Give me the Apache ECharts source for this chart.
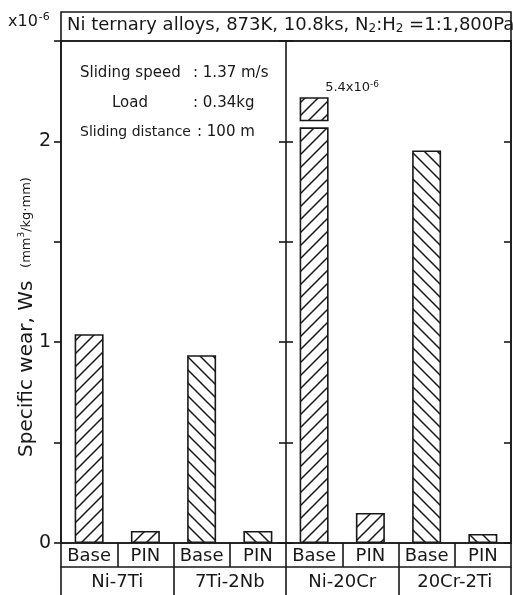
<!DOCTYPE html>
<html>
<head>
<meta charset="utf-8">
<script src="https://cdn.jsdelivr.net/npm/echarts@6/dist/echarts.min.js"></script>
<style>
  html, body { margin: 0; padding: 0; background: #fff; }
  #chart { width: 513px; height: 595px; }
</style>
</head>
<body>
<div id="chart"></div>
<script>
// specific wear, x10^-6 mm3/kg.mm
var pinLabels = ['Base', 'PIN', 'Base', 'PIN', 'Base', 'PIN', 'Base', 'PIN']
var alloys = ['Ni-7Ti', '7Ti-2Nb', 'Ni-20Cr', '20Cr-2Ti']
var baseWear = [1.04, 0.935, 5.4, 1.955]
var pinWear = [0.06, 0.06, 0.15, 0.045]
var hatchDir = ['/', '\\', '/', '\\']
// broken bar (Ni-20Cr base is off scale)
var breakLow = 2.07
var breakGap = 0.03
var breakTop = 2.22
var yTicks = [0, 0.5, 1, 1.5, 2, 2.5]

var ink = '#181818'
var font = 'DejaVu Sans'

function hatch (dir) {
  var s = 13
  var c = document.createElement('canvas')
  c.width = s
  c.height = s
  var g = c.getContext('2d')
  g.fillStyle = '#fff'
  g.fillRect(0, 0, s, s)
  g.strokeStyle = ink
  g.lineWidth = 1.5
  g.beginPath()
  if (dir === '/') {
    g.moveTo(0, s); g.lineTo(s, 0)
    g.moveTo(-2, 2); g.lineTo(2, -2)
    g.moveTo(s - 2, s + 2); g.lineTo(s + 2, s - 2)
  } else {
    g.moveTo(0, 0); g.lineTo(s, s)
    g.moveTo(-2, s - 2); g.lineTo(2, s + 2)
    g.moveTo(s - 2, -2); g.lineTo(s + 2, 2)
  }
  g.stroke()
  return { image: c, repeat: 'repeat' }
}

var yMax = yTicks[yTicks.length - 1]
var mainData = []
var gapData = []
var topData = []
for (var i = 0; i < alloys.length; i++) {
  var pat = hatch(hatchDir[i])
  var b = baseWear[i]
  var broken = b > yMax
  mainData.push({ value: broken ? breakLow : b, itemStyle: { color: pat } })
  mainData.push({ value: pinWear[i], itemStyle: { color: pat } })
  gapData.push(broken ? breakGap : '-', '-')
  topData.push(broken ? { value: breakTop - breakLow - breakGap, raw: b, itemStyle: { color: pat } } : '-', '-')
}

var chart = echarts.init(document.getElementById('chart'), null, { renderer: 'canvas' })

var lineStyle = { color: ink, width: 1.6 }
var txt = function (size) { return size + 'px "' + font + '"' }
var option = {
  backgroundColor: '#fff',
  animation: false,
  textStyle: { fontFamily: font, color: ink },
  grid: [
    { left: 61, right: 2, top: 41, bottom: 52, show: true, borderColor: ink, borderWidth: 1.6 },
    { left: 61, right: 2, top: 12, height: 29, show: true, borderColor: ink, borderWidth: 1.6 }
  ],
  title: {
    text: 'Ni ternary alloys, 873K, 10.8ks, N{sub|2}:H{sub|2} =1:1,800Pa',
    left: 67,
    top: 15,
    padding: 0,
    textStyle: {
      fontFamily: font,
      fontSize: 18,
      fontWeight: 'normal',
      color: ink,
      rich: {
        sub: { fontFamily: font, fontSize: 12, color: ink, verticalAlign: 'bottom', padding: [8, 0, 0, 0] }
      }
    }
  },
  xAxis: [
    {
      type: 'category',
      data: pinLabels,
      gridIndex: 0,
      position: 'bottom',
      axisLine: { show: true, onZero: false, lineStyle: lineStyle },
      axisTick: { show: true, interval: 0, length: 24, lineStyle: lineStyle },
      axisLabel: { interval: 0, margin: 4, fontSize: 18, color: ink, fontFamily: font }
    },
    {
      type: 'category',
      data: alloys,
      gridIndex: 0,
      position: 'bottom',
      offset: 24,
      axisLine: { show: true, onZero: false, lineStyle: lineStyle },
      axisTick: { show: true, interval: 0, length: 30, lineStyle: lineStyle },
      axisLabel: { interval: 0, margin: 6, fontSize: 18, color: ink, fontFamily: font }
    },
    { type: 'value', gridIndex: 1, show: false }
  ],
  yAxis: [
    {
      type: 'value',
      min: 0,
      max: yMax,
      interval: 0.5,
      position: 'left',
      name: 'Specific wear, Ws  {u|(mm}{sup|3}{u|/kg·mm)}',
      nameLocation: 'middle',
      nameRotate: 90,
      nameGap: 24,
      nameMoveOverlap: false,
      nameTextStyle: {
        fontFamily: font,
        fontSize: 20,
        color: ink,
        padding: [0, 50, 0, 0],
        rich: {
          u: { fontFamily: font, fontSize: 13, color: ink },
          sup: { fontFamily: font, fontSize: 9, color: ink, verticalAlign: 'top', padding: [0, 0, 6, 0] }
        }
      },
      axisLine: { show: true, onZero: false, lineStyle: lineStyle },
      axisTick: { show: true, length: 7, lineStyle: lineStyle },
      axisLabel: {
        margin: 10,
        fontSize: 19,
        color: ink,
        fontFamily: font,
        formatter: function (v) { return (v === 0 || v === 1 || v === 2) ? String(v) : '' }
      },
      splitLine: { show: false }
    },
    {
      type: 'value', min: 0, max: yMax, interval: 0.5, position: 'right', offset: -225,
      axisLine: { show: true, onZero: false, lineStyle: lineStyle },
      axisTick: { show: true, inside: false, length: 7, lineStyle: lineStyle },
      axisLabel: { show: false }, splitLine: { show: false }
    },
    {
      type: 'value', min: 0, max: yMax, interval: 0.5, position: 'right', offset: -225,
      axisLine: { show: false },
      axisTick: { show: true, inside: true, length: 7, lineStyle: lineStyle },
      axisLabel: { show: false }, splitLine: { show: false }
    },
    {
      type: 'value', min: 0, max: yMax, interval: 0.5, position: 'right',
      axisLine: { show: true, onZero: false, lineStyle: lineStyle },
      axisTick: { show: true, inside: true, length: 7, lineStyle: lineStyle },
      axisLabel: { show: false }, splitLine: { show: false }
    },
    { type: 'value', gridIndex: 1, show: false }
  ],
  graphic: [
    {
      type: 'text', left: 8, top: 12,
      style: {
        text: 'x10{sup|-6}', font: txt(16), fill: ink,
        rich: { sup: { fontSize: 11, fontFamily: font, fill: ink, verticalAlign: 'top', padding: [0, 0, 8, 1] } }
      }
    },
    { type: 'text', left: 80, top: 66, style: { text: 'Sliding speed', font: txt(15), fill: ink } },
    { type: 'text', left: 193, top: 66, style: { text: ': 1.37 m/s', font: txt(15), fill: ink } },
    { type: 'text', left: 112, top: 96, style: { text: 'Load', font: txt(15), fill: ink } },
    { type: 'text', left: 193, top: 96, style: { text: ': 0.34kg', font: txt(15), fill: ink } },
    { type: 'text', left: 80, top: 125, style: { text: 'Sliding distance', font: txt(14), fill: ink } },
    { type: 'text', left: 197, top: 125, style: { text: ': 100 m', font: txt(15), fill: ink } }
  ],
  series: [
    {
      type: 'bar',
      stack: 'w',
      barWidth: 29,
      xAxisIndex: 0,
      yAxisIndex: 0,
      itemStyle: { borderColor: ink, borderWidth: 1.6 },
      data: mainData
    },
    {
      type: 'bar',
      stack: 'w',
      barWidth: 29,
      xAxisIndex: 0,
      yAxisIndex: 0,
      itemStyle: { color: 'rgba(0,0,0,0)', borderWidth: 0 },
      data: gapData
    },
    {
      type: 'bar',
      stack: 'w',
      barWidth: 29,
      xAxisIndex: 0,
      yAxisIndex: 0,
      itemStyle: { borderColor: ink, borderWidth: 1.6 },
      label: {
        show: true,
        position: 'top',
        distance: 2,
        offset: [38, 0],
        fontFamily: font,
        fontSize: 13,
        color: ink,
        formatter: function (p) { return p.data.raw + 'x10{sup|-6}' },
        rich: { sup: { fontFamily: font, fontSize: 9, color: ink, verticalAlign: 'top', padding: [0, 0, 6, 0] } }
      },
      data: topData
    }
  ]
}
chart.setOption(option)
</script>
</body>
</html>
